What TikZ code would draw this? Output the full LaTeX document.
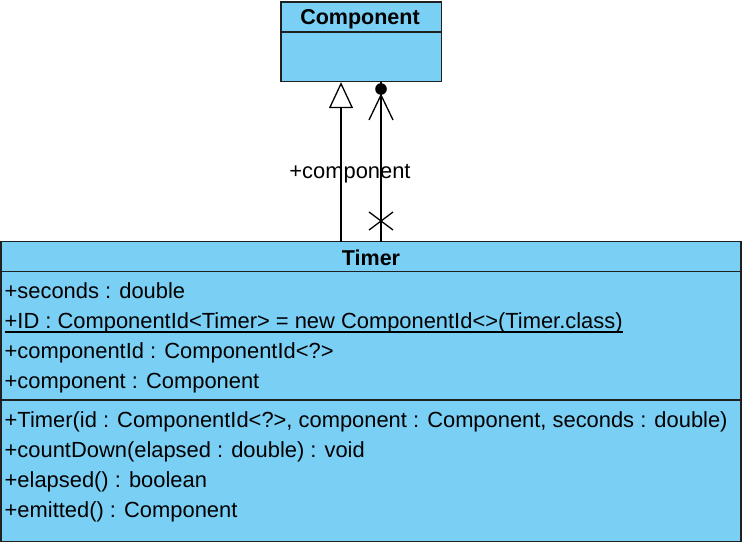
\documentclass[tikz,border=0pt]{standalone}
\usepackage{fontspec}
\setmainfont{Liberation Sans}
\usetikzlibrary{arrows.meta}
\definecolor{classfill}{HTML}{7ACFF5}
\definecolor{edge}{HTML}{202020}
\begin{document}
\begin{tikzpicture}[x=1pt,y=-1pt,
  classbox/.style={draw=edge,fill=classfill,line width=1.3pt,inner sep=0pt},
  sepline/.style={draw=edge,line width=1.3pt},
  member/.style={anchor=base west,inner sep=0pt,font=\fontsize{21.9}{24}\selectfont},
  title/.style={anchor=base,inner sep=0pt,font=\fontsize{21.5}{24}\selectfont\bfseries},
  conn/.style={draw=black,line width=1.3pt},
  gen/.style={conn,-{Triangle[open,length=26pt,width=24pt,line width=1.3pt]}}
]
\useasboundingbox (0,0) rectangle (743,543);

% Component class
\node[classbox,minimum width=160.5pt,minimum height=79.5pt] (comp) at (361.25,41.75) {};
\draw[sepline] (281,32) -- (441.5,32);
\node[title] (compname) at (360,25) {Component};

% Timer class
\node[classbox,minimum width=740pt,minimum height=300pt] (timer) at (371,391.5) {};
\draw[sepline] (1,271.5) -- (741,271.5);
\draw[sepline] (1,400) -- (741,400);
\node[title] (timername) at (371,265) {Timer};

\node[member] (a1) at (4.5,298) {+seconds : double};
\node[member] (a2) at (4.5,328) {+ID : ComponentId<Timer> = new ComponentId<>(Timer.class)};
\draw[line width=1.4pt] ([yshift=-4pt]a2.base west) -- ([yshift=-4pt]a2.base east);
\node[member] (a3) at (4.5,358) {+componentId : ComponentId<?>};
\node[member] (a4) at (4.5,388) {+component : Component};

\node[member] (m1) at (4.5,427) {+Timer(id : ComponentId<?>, component : Component, seconds : double)};
\node[member] (m2) at (4.5,457) {+countDown(elapsed : double) : void};
\node[member] (m3) at (4.5,487) {+elapsed() : boolean};
\node[member] (m4) at (4.5,517) {+emitted() : Component};

% Generalization Timer -> Component
\coordinate (g0) at (341,241.5);
\draw[gen] (g0) -- (g0 |- comp.south);

% Association Timer -> Component (+component)
\coordinate (s0) at (381,241.5);
\coordinate (s1) at (381,95);
\coordinate (dotc) at (381,89);
\draw[conn] (s0) -- (s0 |- comp.south);
\fill[black] (dotc) circle (5.8pt);
\draw[conn] (369,120) -- (s1) -- (393,120);
\draw[conn] (369,212) -- (393,230);
\draw[conn] (369,230) -- (393,212);
\node[member,anchor=base] (lbl) at (350,178) {+component};
\end{tikzpicture}
\end{document}
